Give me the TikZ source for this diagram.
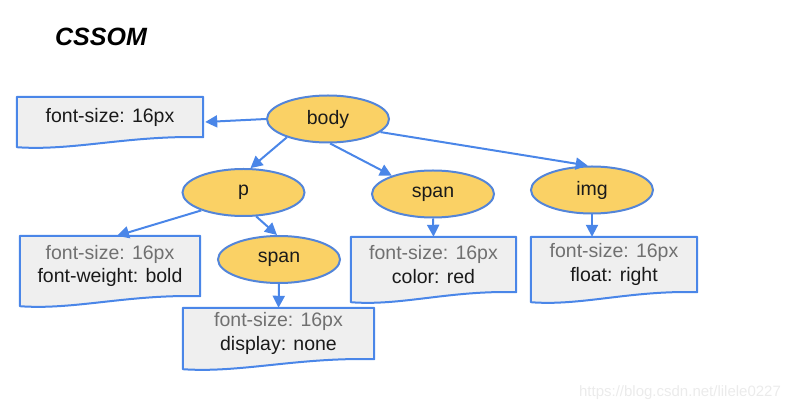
\documentclass[tikz,border=0pt]{standalone}
\usepackage{fontspec}
\setmainfont{Liberation Sans}
\usetikzlibrary{arrows.meta,shapes.geometric,calc,backgrounds}
\definecolor{lineblue}{HTML}{4A86E8}
\definecolor{ellline}{HTML}{5385D9}
\definecolor{ellfill}{HTML}{FAD165}
\definecolor{boxfill}{HTML}{EFEFEF}
\definecolor{inhgray}{HTML}{707070}
\definecolor{txtblack}{HTML}{1A1A1A}
\tikzset{
  ell/.style={ellipse, draw=ellline, fill=ellfill, line width=2pt, minimum width=122pt, minimum height=47pt, inner sep=0pt, font=\fontsize{19.5}{23}\selectfont, text=txtblack},
  docbox/.style={rectangle, draw=none, inner sep=0pt, align=center, font=\fontsize{19.5}{23.5}\selectfont, text=txtblack},
  docline/.style={draw=lineblue, fill=boxfill, line width=2pt, line join=round},
  conn/.style={draw=lineblue, line width=2pt, -{Triangle[length=12pt,width=12pt]}},
  inh/.style={text=inhgray}
}
\newcommand{\docshape}[1]{%
  \path[docline] (#1.north west) -- (#1.north east) -- (#1.south east)
    .. controls ($(#1.south east)!0.4!(#1.south west)+(0,-2)$) and ($(#1.south east)!0.7!(#1.south west)+(0,14)$) .. ($(#1.south west)+(0,10)$) -- cycle;}
\begin{document}
\begin{tikzpicture}[x=1pt,y=-1pt]
\useasboundingbox (0,0) rectangle (798,411);
\node[font=\fontsize{25}{30}\selectfont\bfseries\itshape, text=black] (title) at (101,37) {CSSOM};
% ellipses
\node[ell] (body) at (328,119) {body};
\node[ell] (p) at (243.5,192.5) {p};
\node[ell] (span1) at (279,259.5) {span};
\node[ell] (span2) at (433,194) {span};
\node[ell] (img) at (592,190) {img};
% boxes
\node[docbox, minimum width=186pt, minimum height=40pt] (box1) at (110,117) {font-size: 16px};
\node[docbox, minimum width=180pt, minimum height=60pt] (boxp) at (110,266) {{\color{inhgray}font-size: 16px}\\font-weight: bold};
\node[docbox, minimum width=191pt, minimum height=51pt] (boxs1) at (278.5,333.5) {{\color{inhgray}font-size: 16px}\\display: none};
\node[docbox, minimum width=165pt, minimum height=55pt] (boxs2) at (433.5,264.5) {{\color{inhgray}font-size: 16px}\\color: red};
\node[docbox, minimum width=166pt, minimum height=55pt] (boximg) at (614,264.5) {{\color{inhgray}font-size: 16px}\\float: right};
\begin{scope}[on background layer]
  \docshape{box1}
  \docshape{boxp}
  \docshape{boxs1}
  \docshape{boxs2}
  \docshape{boximg}
\end{scope}
% connectors
\draw[conn] (body.west) -- ([yshift=-5pt,xshift=2pt]box1.east);
\draw[conn] (body.204) -- (p.74);
\draw[conn] (body.-85) -- (span2.156);
\draw[conn] (body.-14) -- (img.100);
\draw[conn] (p.203) -- ([xshift=7pt]boxp.north);
\draw[conn] (p.-62) -- ([xshift=-2pt]span1.north);
\draw[conn] (span1.south) -- (boxs1.north);
\draw[conn] (span2.south) -- (boxs2.north);
\draw[conn] (img.south) -- ([xshift=-22pt]boximg.north);
% watermark
\node[font=\fontsize{15}{18}\selectfont, text=black!8] (wm) at (680,393) {https://blog.csdn.net/lilele0227};
\end{tikzpicture}
\end{document}
